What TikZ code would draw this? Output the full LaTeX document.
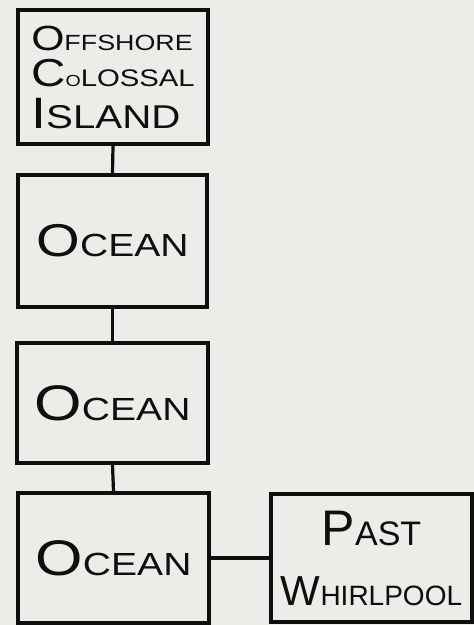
\documentclass[tikz,border=0pt]{standalone}
\usepackage{fontspec}
\newfontfamily\hand[FakeStretch=1.22]{Liberation Sans}
\newfontfamily\handn{Liberation Sans}
\definecolor{paper}{RGB}{236,236,232}
\definecolor{ink}{RGB}{15,15,15}
\newcommand\fs[2]{{\fontsize{#1}{40}\selectfont #2}}
\tikzset{
  box/.style={draw=ink, line width=3.2pt, rectangle, inner sep=0pt,
    font=\hand, text=ink},
  link/.style={draw=ink, line width=3.2pt},
}
\begin{document}
\begin{tikzpicture}[x=1pt,y=-1pt]
\fill[paper] (0,0) rectangle (474,625);
\useasboundingbox (0,0) rectangle (474,625);

\node[box, minimum width=190pt, minimum height=134pt, align=left,
      font=\hand\fontsize{30}{36}\selectfont]
  (b1) at (113,77)
  {\fs{35}{O}\fs{22}{FFSHORE}\\
   \fs{39}{C}\fs{16}{O}\fs{24}{LOSSAL}\\[6pt]
   \fs{44}{I}\fs{33}{SLAND}};

\node[box, minimum width=189pt, minimum height=132pt] (b2) at (112.5,241)
  {\fs{46}{O}\fs{32}{CEAN}};

\node[box, minimum width=191pt, minimum height=120pt] (b3) at (112.5,403)
  {\fs{50}{O}\fs{32}{CEAN}};

\node[box, minimum width=191pt, minimum height=130pt] (b4) at (113.5,558)
  {\fs{50}{O}\fs{32}{CEAN}};

\node[box, minimum width=201pt, minimum height=128pt, align=center,
      font=\handn\fontsize{30}{60}\selectfont]
  (b5) at (371.5,558)
  {\fs{50}{P}\fs{34}{AST}\\
   \fs{42}{W}\fs{28}{HIRLPOOL}};

\draw[link] (b1.south) -- (b2.north);
\draw[link] (b2.south) -- (b3.north);
\draw[link] (b3.south) -- (b4.north);
\draw[link] (b4.east) -- (b5.west);
\end{tikzpicture}
\end{document}
